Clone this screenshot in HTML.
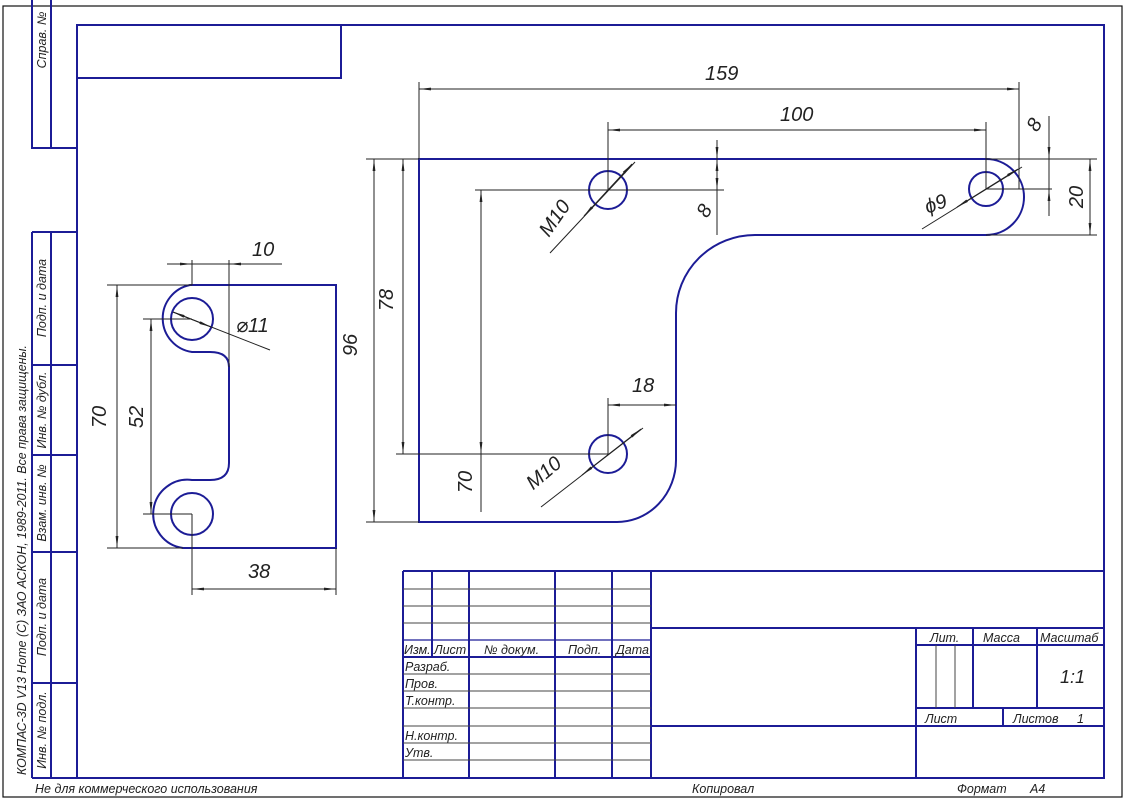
<!DOCTYPE html>
<html><head><meta charset="utf-8"><style>
html,body{margin:0;padding:0;background:#fff;}
svg{display:block;}
text{font-family:"Liberation Sans","DejaVu Sans",sans-serif;font-style:italic;fill:#222;}
.b{stroke:#1c1c96;stroke-width:2;fill:none;}
.t{stroke:#222;stroke-width:1;fill:none;}
.g{stroke:#444;stroke-width:1;fill:none;}
.d{font-size:20px;}
.s{font-size:12.5px;}
</style></head><body>
<svg width="1125" height="800" viewBox="0 0 1125 800" xmlns="http://www.w3.org/2000/svg">
<defs>
<marker id="a" viewBox="0 0 12 4" refX="12" refY="2" markerWidth="12" markerHeight="4" markerUnits="userSpaceOnUse" orient="auto-start-reverse">
<path d="M0,0.6 L12,2 L0,3.4 z" fill="#222"/>
</marker>
</defs>
<rect x="3" y="6" width="1119" height="791" fill="none" stroke="#111" stroke-width="1.2"/>
<!-- frame -->
<path class="b" d="M77,25 H1104 V778 H32 M77,25 V778 M32,0 V148 H77 M51,0 V148 M32,232 H77 M32,232 V778 M51,232 V778 M32,365 H77 M32,455 H77 M32,552 H77 M32,683 H77"/>
<rect class="b" x="77" y="25" width="264" height="53"/>
<!-- strip text -->
<text class="s" transform="translate(46,40) rotate(-90)" text-anchor="middle">Справ. №</text>
<text class="s" transform="translate(46,298) rotate(-90)" text-anchor="middle">Подп. и дата</text>
<text class="s" transform="translate(46,410) rotate(-90)" text-anchor="middle">Инв. № дубл.</text>
<text class="s" transform="translate(46,503) rotate(-90)" text-anchor="middle">Взам. инв. №</text>
<text class="s" transform="translate(46,617) rotate(-90)" text-anchor="middle">Подп. и дата</text>
<text class="s" transform="translate(46,730) rotate(-90)" text-anchor="middle">Инв. № подл.</text>
<text class="s" transform="translate(26,560) rotate(-90)" text-anchor="middle" textLength="430" lengthAdjust="spacingAndGlyphs">КОМПАС-3D V13 Home (С) ЗАО АСКОН, 1989-2011. Все права защищены.</text>
<!-- title block -->
<path class="b" d="M403,571 H1104 M403,571 V778 M432,571 V657 M469,571 V778 M555,571 V778 M612,571 V778 M651,571 V778 M403,657 H651 M651,628 H1104 M651,726 H1104 M916,628 V778 M916,645 H1104 M916,708 H1104 M973,628 V708 M1037,628 V708 M1003,708 V726"/>
<path class="g" d="M403,589 H651 M403,606 H651 M403,623 H651 M403,674 H651 M403,691 H651 M403,708 H651 M403,726 H651 M403,743 H651 M403,760 H651 M936,645 V708 M955,645 V708"/>
<path d="M403,640 H651" stroke="#1c1c96" stroke-width="1.3"/>
<text class="s" x="404" y="654">Изм.</text>
<text class="s" x="434" y="654">Лист</text>
<text class="s" x="484" y="654">№ докум.</text>
<text class="s" x="568" y="654">Подп.</text>
<text class="s" x="616" y="654">Дата</text>
<text class="s" x="405" y="671">Разраб.</text>
<text class="s" x="405" y="688">Пров.</text>
<text class="s" x="405" y="705">Т.контр.</text>
<text class="s" x="405" y="740">Н.контр.</text>
<text class="s" x="405" y="757">Утв.</text>
<text class="s" x="930" y="642">Лит.</text>
<text class="s" x="983" y="642">Масса</text>
<text class="s" x="1040" y="642">Масштаб</text>
<text x="1060" y="683" font-size="18">1:1</text>
<text class="s" x="925" y="723">Лист</text>
<text class="s" x="1013" y="723">Листов</text>
<text class="s" x="1077" y="723">1</text>
<text class="s" x="35" y="793">Не для коммерческого использования</text>
<text class="s" x="692" y="793">Копировал</text>
<text class="s" x="957" y="793">Формат</text>
<text class="s" x="1030" y="793">А4</text>
<!-- left part -->
<path class="b" d="M190,285 L336,285 L336,548 L183,548 A34,34 0 0 1 192,480 L210,480 Q229,480 229,463 L229,367 Q229,352 210,352 L192,352 A34,34 0 0 1 190,285 Z"/>
<circle class="b" cx="192" cy="319" r="21"/>
<circle class="b" cx="192" cy="514" r="21"/>
<path class="t" d="M107,285 H192 M107,548 H183 M143,319 H192 M143,514 H192 M192,260 V285 M229,260 V367 M192,514 V595 M336,548 V595 M173,312 L270,350"/>
<line class="t" x1="117" y1="285" x2="117" y2="548" marker-start="url(#a)" marker-end="url(#a)"/>
<line class="t" x1="151" y1="319" x2="151" y2="514" marker-start="url(#a)" marker-end="url(#a)"/>
<line class="t" x1="192" y1="589" x2="336" y2="589" marker-start="url(#a)" marker-end="url(#a)"/>
<line class="t" x1="167" y1="264" x2="192" y2="264" marker-end="url(#a)"/>
<line class="t" x1="282" y1="264" x2="229" y2="264" marker-end="url(#a)"/>
<line class="t" x1="192" y1="264" x2="229" y2="264"/>
<line class="t" x1="173" y1="312" x2="211" y2="327" marker-start="url(#a)" marker-end="url(#a)"/>
<text class="d" x="252" y="256">10</text>
<text class="d" x="248" y="578">38</text>
<text class="d" x="236" y="332">⌀11</text>
<text class="d" transform="translate(106,417) rotate(-90)" text-anchor="middle">70</text>
<text class="d" transform="translate(143,417) rotate(-90)" text-anchor="middle">52</text>
<text class="d" transform="translate(357,345) rotate(-90)" text-anchor="middle">96</text>
<!-- right part -->
<path class="b" d="M419,159 L986,159 A38,38 0 0 1 986,235 L755,235 A79,78 0 0 0 676,313 L676,460 A59,62 0 0 1 617,522 L419,522 Z"/>
<circle class="b" cx="608" cy="190" r="19"/>
<circle class="b" cx="608" cy="454" r="19"/>
<circle class="b" cx="986" cy="189" r="17"/>
<path class="t" d="M419,82 V159 M1019,82 V189 M608,122 V190 M986,122 V189 M366,159 H419 M366,522 H419 M396,454 H608 M475,190 H724 M608,398 V454 M986,189 H1052 M986,159 H1097 M986,235 H1097 M550,253 L635,162 M541,507 L643,428 M922,229 L1022,167"/>
<line class="t" x1="419" y1="89" x2="1019" y2="89" marker-start="url(#a)" marker-end="url(#a)"/>
<line class="t" x1="608" y1="130" x2="986" y2="130" marker-start="url(#a)" marker-end="url(#a)"/>
<line class="t" x1="374" y1="159" x2="374" y2="522" marker-start="url(#a)" marker-end="url(#a)"/>
<line class="t" x1="403" y1="159" x2="403" y2="454" marker-start="url(#a)" marker-end="url(#a)"/>
<line class="t" x1="481" y1="190" x2="481" y2="454" marker-start="url(#a)" marker-end="url(#a)"/>
<line class="t" x1="481" y1="454" x2="481" y2="512"/>
<line class="t" x1="608" y1="405" x2="676" y2="405" marker-start="url(#a)" marker-end="url(#a)"/>
<line class="t" x1="717" y1="140" x2="717" y2="159" marker-end="url(#a)"/>
<line class="t" x1="717" y1="159" x2="717" y2="190" marker-start="url(#a)" marker-end="url(#a)"/>
<line class="t" x1="717" y1="190" x2="717" y2="235"/>
<line class="t" x1="1049" y1="116" x2="1049" y2="159" marker-end="url(#a)"/>
<line class="t" x1="1049" y1="216" x2="1049" y2="189" marker-end="url(#a)"/>
<line class="t" x1="1049" y1="159" x2="1049" y2="189"/>
<line class="t" x1="1090" y1="159" x2="1090" y2="235" marker-start="url(#a)" marker-end="url(#a)"/>
<line class="t" x1="584" y1="216" x2="632" y2="164" marker-start="url(#a)" marker-end="url(#a)"/>
<line class="t" x1="582" y1="475" x2="641" y2="429" marker-start="url(#a)" marker-end="url(#a)"/>
<line class="t" x1="957" y1="207" x2="1018" y2="169" marker-start="url(#a)" marker-end="url(#a)"/>
<text class="d" x="705" y="80">159</text>
<text class="d" x="780" y="121">100</text>
<text class="d" x="632" y="392">18</text>
<text class="d" transform="translate(560,222) rotate(-55)" text-anchor="middle">M10</text>
<text class="d" transform="translate(548,478) rotate(-40)" text-anchor="middle">M10</text>
<text class="d" transform="translate(938,210) rotate(-20)" text-anchor="middle">ϕ9</text>
<text class="d" transform="translate(710,214) rotate(-60)" text-anchor="middle">8</text>
<text class="d" transform="translate(1040,128) rotate(-60)" text-anchor="middle">8</text>
<text class="d" transform="translate(1083,197) rotate(-90)" text-anchor="middle">20</text>
<text class="d" transform="translate(366,345) rotate(-90)" text-anchor="middle"></text>
<text class="d" transform="translate(393,300) rotate(-90)" text-anchor="middle">78</text>
<text class="d" transform="translate(472,482) rotate(-90)" text-anchor="middle">70</text>
</svg>
</body></html>
